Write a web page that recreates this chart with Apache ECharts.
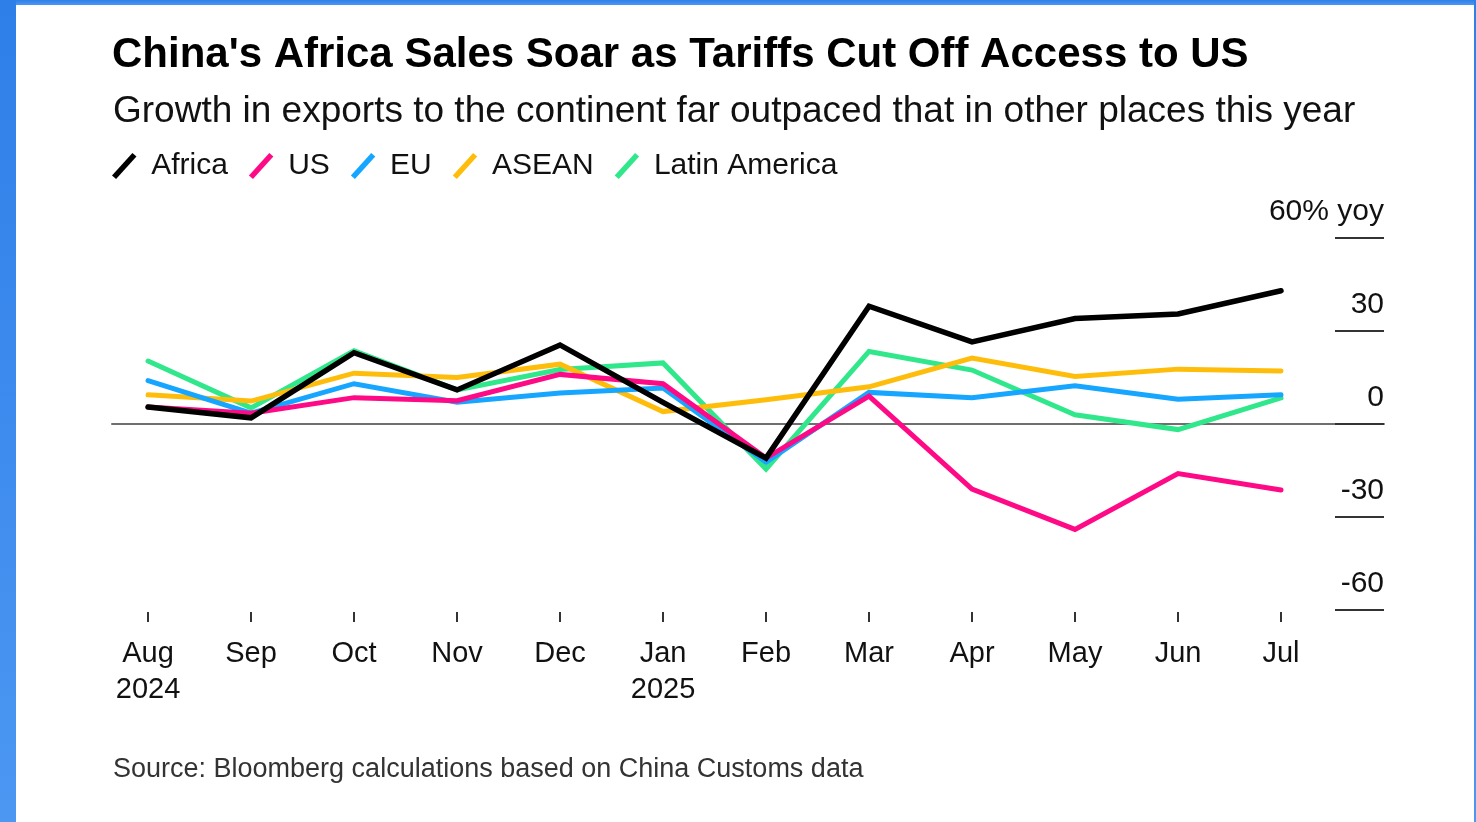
<!DOCTYPE html>
<html>
<head>
<meta charset="utf-8">
<title>China's Africa Sales Soar as Tariffs Cut Off Access to US</title>
<script src="https://cdn.jsdelivr.net/npm/echarts@6/dist/echarts.min.js"></script>
<style>
  html, body { margin: 0; padding: 0; width: 1476px; height: 822px; overflow: hidden; background: #fff; }
  #chart { position: absolute; left: 0; top: 0; width: 1476px; height: 822px; }
  .frame { position: absolute; pointer-events: none; background: linear-gradient(180deg, #2f7fe9 0%, #4b97f2 100%); }
</style>
</head>
<body>
<div id="chart"></div>
<div class="frame" style="left:0;top:0;width:1476px;height:5px;"></div>
<div class="frame" style="left:0;top:0;width:16px;height:822px;"></div>
<div class="frame" style="left:1474px;top:0;width:2px;height:822px;"></div>
<script>
// Monthly year-on-year growth of China's exports, Aug 2024 – Jul 2025 (%)
const months = ['Aug', 'Sep', 'Oct', 'Nov', 'Dec', 'Jan', 'Feb', 'Mar', 'Apr', 'May', 'Jun', 'Jul'];
const monthLabels = ['Aug\n2024', 'Sep', 'Oct', 'Nov', 'Dec', 'Jan\n2025', 'Feb', 'Mar', 'Apr', 'May', 'Jun', 'Jul'];

const africa       = [5.5, 2, 23, 11, 25.5, 7, -11, 38, 26.5, 34, 35.5, 43];
const us           = [5.5, 3.5, 8.5, 7.5, 16, 13, -11, 9, -21, -34, -16, -21.3];
const eu           = [14, 3.5, 13, 7, 10, 11.6, -12.3, 10.2, 8.5, 12.3, 8, 9.4];
const asean        = [9.4, 7.4, 16.4, 15, 19.3, 4, 7.8, 12, 21.3, 15.3, 17.7, 17.1];
const latinAmerica = [20.3, 5.2, 23.6, 11, 17.6, 19.7, -14.5, 23.4, 17.4, 3, -1.8, 8.4];

const yTicks = [-60, -30, 0, 30, 60];

const FONT = '"Liberation Sans", Arial, Helvetica, sans-serif';
const monthIdx = months.map((m, i) => i);
const toPoints = arr => arr.map((v, i) => [i, v]);

// slanted stroke used as legend key
const slash = 'path://M0,22 L20,0 L24,3.5 L4,25.5 Z';

const seriesDefs = [
  { name: 'Latin America', data: latinAmerica, color: '#30e88b', width: 5,   z: 2 },
  { name: 'ASEAN',         data: asean,        color: '#ffbd0b', width: 5,   z: 3 },
  { name: 'EU',            data: eu,           color: '#17a6ff', width: 5,   z: 4 },
  { name: 'US',            data: us,           color: '#ff0a86', width: 5,   z: 5 },
  { name: 'Africa',        data: africa,       color: '#000000', width: 5.5, z: 6 }
];

const chart = echarts.init(document.getElementById('chart'), null, { renderer: 'canvas' });

chart.setOption({
  animation: false,
  backgroundColor: '#ffffff',
  textStyle: { fontFamily: FONT },
  title: [
    {
      text: "China's Africa Sales Soar as Tariffs Cut Off Access to US",
      left: 107, top: 29,
      textStyle: { fontFamily: FONT, fontSize: 42, fontWeight: 'bold', color: '#000' }
    },
    {
      text: 'Growth in exports to the continent far outpaced that in other places this year',
      left: 108, top: 88,
      textStyle: { fontFamily: FONT, fontSize: 37, fontWeight: 'normal', color: '#111' }
    },
    {
      text: 'Source: Bloomberg calculations based on China Customs data',
      left: 108, top: 751,
      textStyle: { fontFamily: FONT, fontSize: 27, fontWeight: 'normal', color: '#333' }
    }
  ],
  legend: {
    left: 107, top: 146,
    icon: slash,
    itemWidth: 26, itemHeight: 26,
    itemGap: 21,
    data: ['Africa', 'US', 'EU', 'ASEAN', 'Latin America'],
    itemStyle: { borderWidth: 0 },
    textStyle: { fontFamily: FONT, fontSize: 30, color: '#111', padding: [0, 0, 0, 9] }
  },
  grid: { left: 112, right: 92, top: 238, bottom: 212, containLabel: false },
  xAxis: [
    {
      type: 'value',
      min: -0.35, max: 12,
      position: 'bottom',
      offset: 2,
      axisLine: { show: false, onZero: false },
      splitLine: { show: false },
      axisTick: {
        show: true, length: 10, customValues: monthIdx,
        lineStyle: { color: '#333', width: 2 }
      },
      axisLabel: {
        show: true, customValues: monthIdx, margin: 24,
        formatter: v => monthLabels[Math.round(v)] || '',
        fontFamily: FONT, fontSize: 29, lineHeight: 36, color: '#111'
      }
    },
    {
      // zero baseline across the full plot width
      type: 'value',
      min: -0.35, max: 12,
      position: 'top',
      axisLine: { show: true, onZero: true, onZeroAxisIndex: 0, lineStyle: { color: '#6f6f6f', width: 2 } },
      axisTick: { show: false },
      axisLabel: { show: false },
      splitLine: { show: false }
    }
  ],
  yAxis: {
    type: 'value',
    position: 'right',
    min: -60, max: 60, interval: 30,
    axisLine: { show: false, onZero: false },
    splitLine: { show: false },
    axisTick: { show: true, inside: true, length: 49, lineStyle: { color: '#333', width: 2 } },
    axisLabel: {
      inside: true, margin: 0,
      verticalAlign: 'bottom',
      padding: [0, 0, 11, 0],
      formatter: v => (v === yTicks[yTicks.length - 1] ? v + '% yoy' : String(v)),
      fontFamily: FONT, fontSize: 30, color: '#111'
    }
  },
  series: seriesDefs.map(s => ({
    name: s.name,
    type: 'line',
    xAxisIndex: 0,
    data: toPoints(s.data),
    symbol: 'none',
    z: s.z,
    color: s.color,
    lineStyle: { color: s.color, width: s.width, cap: 'round', join: 'miter' },
    emphasis: { disabled: true }
  }))
});
</script>
</body>
</html>
